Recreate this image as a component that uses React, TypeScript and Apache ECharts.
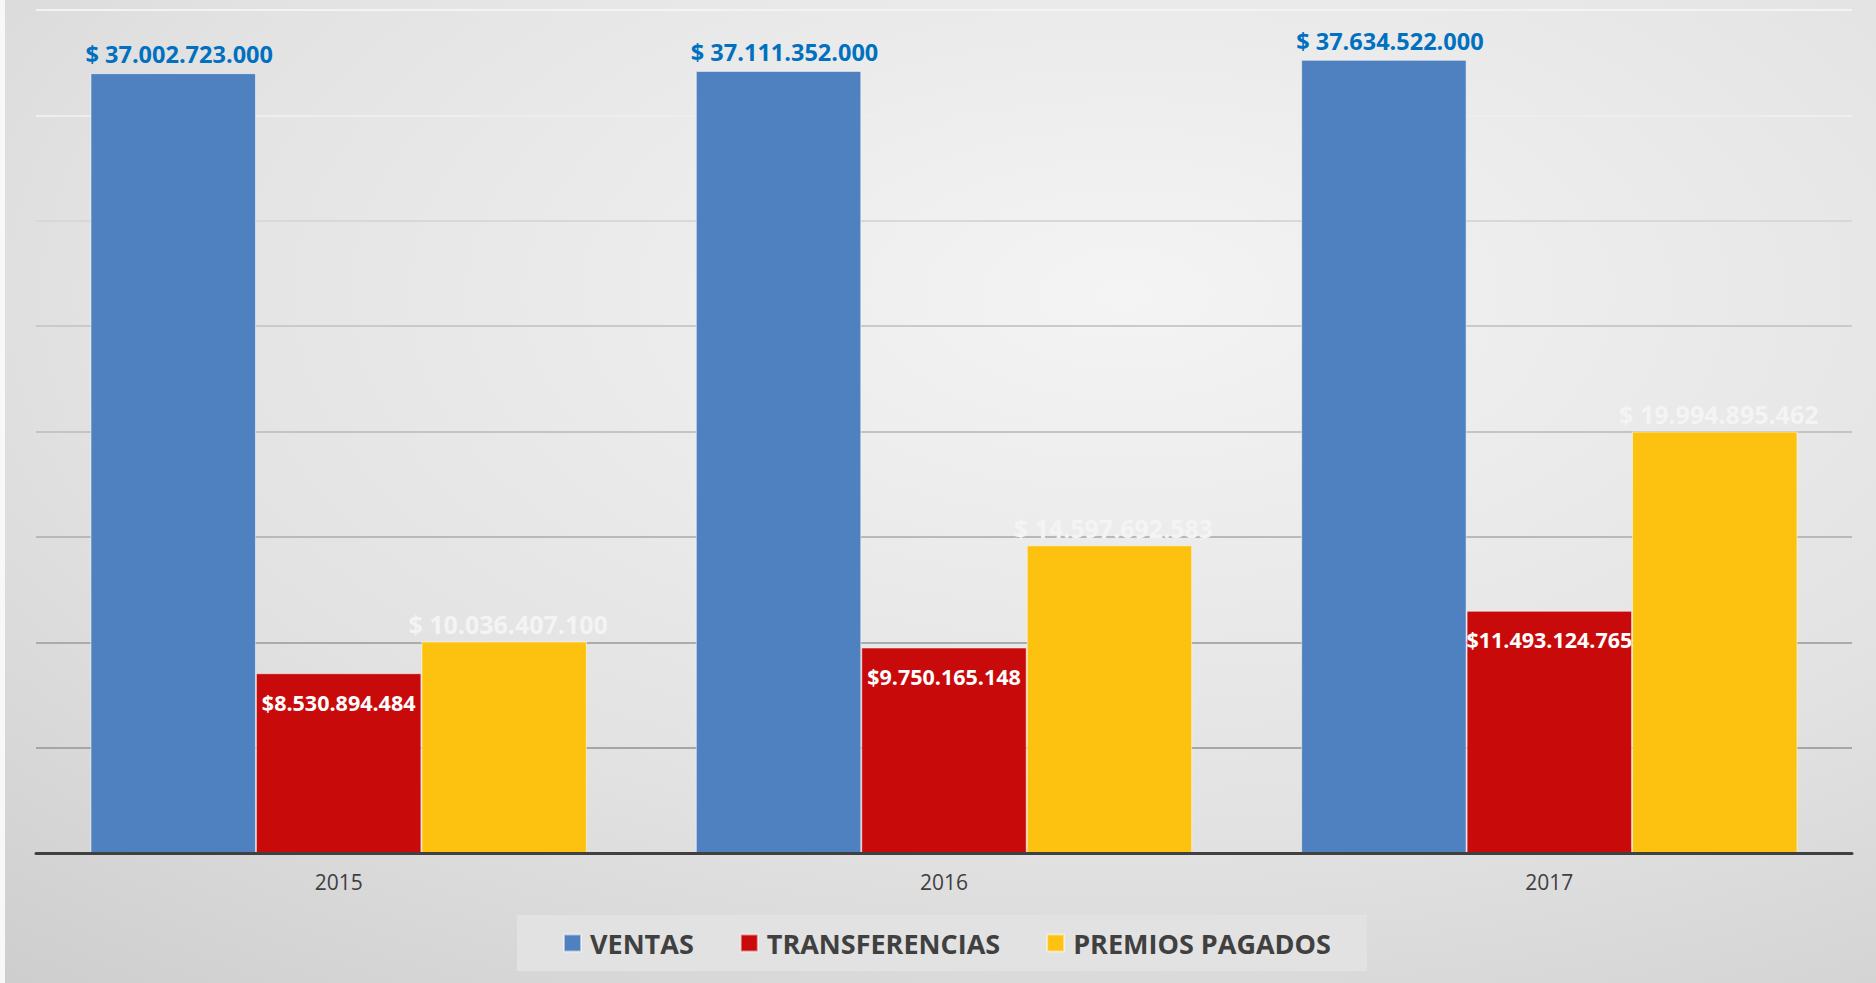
import React, { useEffect, useRef } from "react";
import * as echarts from "echarts";

const categories = ["2015", "2016", "2017"];
const seriesNames = ["VENTAS", "TRANSFERENCIAS", "PREMIOS PAGADOS"];
const ventas = [37002723000, 37111352000, 37634522000];
const transferencias = [8530894484, 9750165148, 11493124765];
const premios = [10036407100, 14597692583, 19994895462];
const axisMax = 40000000000;
const axisInterval = 5000000000;

const fmt = (v: number) => String(Math.round(v)).replace(/\B(?=(\d{3})+(?!\d))/g, ".");

export default function App() {
  const ref = useRef<HTMLDivElement>(null);
  useEffect(() => {
    document.body.style.margin = "0";
    if (!ref.current) return;
    const chart = echarts.init(ref.current, undefined, { renderer: "svg" });
    const font = "'Open Sans', 'DejaVu Sans', sans-serif";
    const option: any = {
      animation: false,
      backgroundColor: {
        type: "radial",
        x: 0.6,
        y: 0.3,
        r: 1.1,
        colorStops: [
          { offset: 0, color: "#f4f4f4" },
          { offset: 0.5, color: "#e2e2e2" },
          { offset: 1, color: "#c4c4c4" },
        ],
      },
      graphic: [
        { type: "rect", left: 0, top: 0, shape: { width: 5, height: 983 }, style: { fill: "#f8f8f8" }, silent: true },
      ],
      grid: { left: 36, right: 24, top: 10, bottom: 130, containLabel: false },
      legend: {
        data: seriesNames,
        left: 517,
        top: 915,
        orient: "horizontal",
        backgroundColor: "#e2e2e2",
        padding: [12, 36, 12, 46],
        itemWidth: 17,
        itemHeight: 17,
        itemGap: 46,
        icon: "rect",
        textStyle: {
          fontFamily: font,
          fontWeight: "bold",
          fontSize: 27,
          color: "#404040",
          lineHeight: 32,
          padding: [0, 0, 0, 4],
        },
      },
      xAxis: {
        type: "category",
        data: categories,
        axisTick: { show: false },
        axisLine: { lineStyle: { color: "#404040", width: 3 } },
        axisLabel: { color: "#404040", fontFamily: font, fontSize: 21, margin: 18 },
        z: 10,
      },
      yAxis: {
        type: "value",
        min: 0,
        max: axisMax,
        interval: axisInterval,
        axisLabel: { show: false },
        axisLine: { show: false },
        axisTick: { show: false },
        splitLine: {
          lineStyle: {
            width: 2,
            color: ["#404040", "#a6a6a6", "#ababab", "#b9b9b9", "#c4c4c4", "#cacaca", "#d8d8d8", "#eeeeee", "#f3f3f3"],
          },
        },
      },
      series: [
        {
          name: seriesNames[0],
          type: "bar",
          data: ventas,
          barGap: "0%",
          barCategoryGap: "18%",
          itemStyle: { color: "#4f80c0", borderColor: "rgba(255,255,255,0.5)", borderWidth: 1 },
          label: {
            show: true,
            position: "top",
            distance: 7,
            offset: [6, 0],
            color: "#0070c0",
            fontFamily: font,
            fontWeight: "bold",
            fontSize: 23.5,
            formatter: (p: any) => "$ " + fmt(p.value),
          },
        },
        {
          name: seriesNames[1],
          type: "bar",
          data: transferencias,
          barGap: "0%",
          barCategoryGap: "18%",
          itemStyle: { color: "#c80a0a", borderColor: "rgba(255,255,255,0.5)", borderWidth: 1 },
          label: {
            show: true,
            position: "insideTop",
            distance: 18,
            color: "#ffffff",
            fontFamily: font,
            fontWeight: "bold",
            fontSize: 21.5,
            formatter: (p: any) => "$" + fmt(p.value),
          },
        },
        {
          name: seriesNames[2],
          type: "bar",
          data: premios,
          barGap: "0%",
          barCategoryGap: "18%",
          itemStyle: { color: "#fdc20f", borderColor: "rgba(255,255,255,0.5)", borderWidth: 1 },
          label: {
            show: true,
            position: "top",
            distance: 5,
            offset: [4, 0],
            color: "#f4f4f4",
            fontFamily: font,
            fontWeight: "bold",
            fontSize: 25,
            formatter: (p: any) => "$ " + fmt(p.value),
          },
        },
      ],
    };
    chart.setOption(option);
    return () => chart.dispose();
  }, []);
  return <div ref={ref} style={{ width: 1876, height: 983 }} />;
}
